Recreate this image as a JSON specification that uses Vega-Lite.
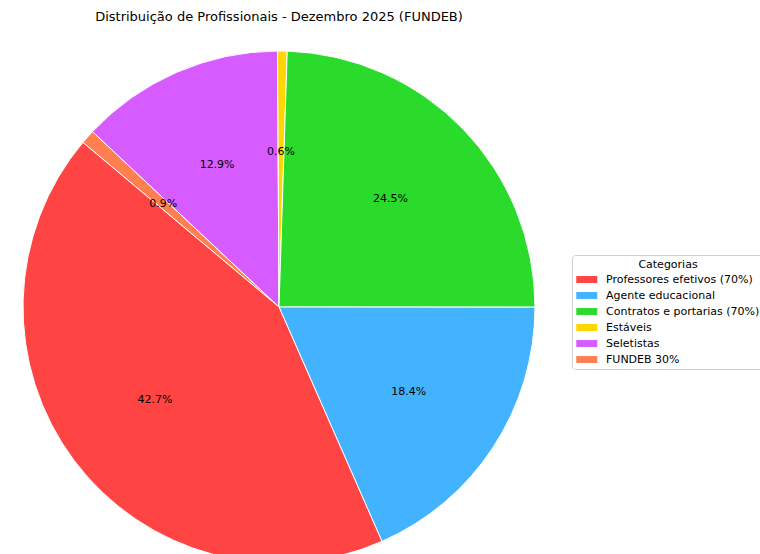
{
  "$schema": "https://vega.github.io/schema/vega-lite/v6.json",
  "width": 558,
  "height": 523,
  "padding": {"top": 11, "left": 0, "right": 0, "bottom": 0},
  "background": "white",
  "title": {
    "text": "Distribuição de Profissionais - Dezembro 2025 (FUNDEB)",
    "font": "DejaVu Sans",
    "fontSize": 13,
    "fontWeight": "normal",
    "color": "#000000",
    "anchor": "middle",
    "offset": 7
  },
  "config": {"view": {"stroke": null}},
  "data": {
    "values": [
      {"categoria": "FUNDEB 30%", "pct": 0.009, "ordem": 0},
      {"categoria": "Seletistas", "pct": 0.129, "ordem": 1},
      {"categoria": "Estáveis", "pct": 0.006, "ordem": 2},
      {"categoria": "Contratos e portarias (70%)", "pct": 0.245, "ordem": 3},
      {"categoria": "Agente educacional", "pct": 0.184, "ordem": 4},
      {"categoria": "Professores efetivos (70%)", "pct": 0.427, "ordem": 5}
    ]
  },
  "encoding": {
    "theta": {"field": "pct", "type": "quantitative", "stack": true, "scale": {"range": [-0.87266, 5.41053]}},
    "order": {"field": "ordem", "type": "quantitative", "sort": "ascending"}
  },
  "layer": [
    {
      "mark": {"type": "arc", "x": 279, "y": 276, "radius": 256, "stroke": "white", "strokeWidth": 1, "clip": true},
      "encoding": {
        "color": {
          "field": "categoria",
          "type": "nominal",
          "scale": {
            "domain": ["Professores efetivos (70%)", "Agente educacional", "Contratos e portarias (70%)", "Estáveis", "Seletistas", "FUNDEB 30%"],
            "range": ["#ff4444", "#44b3ff", "#2bdb2b", "#ffd700", "#d65cff", "#ff7f50"]
          },
          "legend": {
            "title": "Categorias",
            "orient": "none",
            "legendX": 572,
            "legendY": 224,
            "titleFont": "DejaVu Sans",
            "titleFontSize": 11,
            "titleFontWeight": "normal",
            "titleColor": "#000000",
            "titleAnchor": "middle",
            "titlePadding": 4,
            "labelFont": "DejaVu Sans",
            "labelFontSize": 11,
            "labelColor": "#000000",
            "labelOffset": 19,
            "labelLimit": 400,
            "symbolType": "M-1,-0.66L3,-0.66L3,0.66L-1,0.66Z",
            "symbolSize": 110,
            "symbolStrokeWidth": 0,
            "rowPadding": 4,
            "padding": 4,
            "strokeColor": "#d0d0d0",
            "fillColor": "white",
            "cornerRadius": 3
          }
        }
      }
    },
    {
      "mark": {"type": "text", "x": 279, "y": 276, "radius": 155, "font": "DejaVu Sans", "fontSize": 11, "color": "#000000"},
      "encoding": {
        "text": {"field": "pct", "type": "quantitative", "format": ".1%"}
      }
    }
  ]
}
